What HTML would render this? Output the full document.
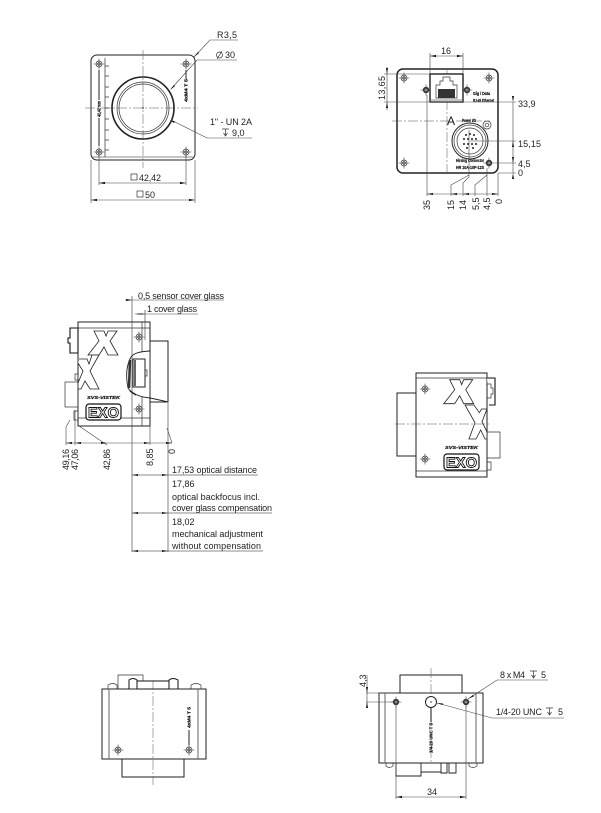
<!DOCTYPE html>
<html><head><meta charset="utf-8"><style>
html,body{margin:0;padding:0;background:#fff;width:601px;height:813px;overflow:hidden}
svg{display:block}
text{font-family:"Liberation Sans",sans-serif;font-size:9px;fill:#222}
.b{fill:none;stroke:#222;stroke-width:1}
.t{fill:none;stroke:#333;stroke-width:.7}
.d{fill:none;stroke:#444;stroke-width:.6}
.g{fill:none;stroke:#666;stroke-width:.7}
.c{fill:none;stroke:#555;stroke-width:.5;stroke-dasharray:10 2 2 2}
.a{fill:#111}
.s{font-size:4.4px;font-weight:bold;fill:#111;stroke:#111;stroke-width:.2}
.e{font-size:15px;font-weight:bold;fill:#fff;stroke:#111;stroke-width:.9}
</style></head><body>
<svg width="601" height="813" viewBox="0 0 601 813" xmlns="http://www.w3.org/2000/svg">
<defs>
<g id="sc"><circle r="3" class="t"/><circle r="1.3" class="t"/><path d="M-5.500 0H5.500M0-5.500V5.500" class="d"/></g>
<g id="sd"><circle r="3.200" fill="#333"/><circle r="1.400" fill="#ccc"/><path d="M-5.500 0H5.500M0-5.500V5.500" class="d"/></g>
<path id="ar" d="M0 0L6-1.1V1.1Z" class="a"/>
<path id="al" d="M0 0L-6-1.1V1.1Z" class="a"/>
<path id="x" d="M94 331H104L106 336L108 331H117L110 341L118 355H108L104 347L99 355H88L99 341Z" fill="#fff" stroke="#222" stroke-width=".8"/>
</defs>

<!-- TOP LEFT -->
<rect x="91" y="55" width="104" height="105" rx="6" class="b"/>
<path d="M91 157H195" class="g"/>
<path d="M143 50V168M85 108H198" class="c"/>
<circle cx="143" cy="108" r="31" fill="none" stroke="#222" stroke-width="1.6"/>
<circle cx="143" cy="108" r="26" class="t"/><circle cx="143" cy="108" r="24" class="t"/><circle cx="143" cy="108" r=".8" class="a"/>
<use href="#sc" x="99" y="64"/><use href="#sc" x="186" y="64"/><use href="#sc" x="99" y="152"/><use href="#sc" x="186" y="152"/>
<path d="M99 70V100M99 118V146M186 70V79" stroke="#222" stroke-width="1" fill="none"/>
<path d="M105 58V157M105 66H109M105 76H109M105 87H109M105 97H109M105 108H109M105 119H109M105 130H109M105 140H109M105 150H109" class="t"/>
<text class="s" transform="translate(100.500 117) rotate(-90)" textLength="16" lengthAdjust="spacingAndGlyphs">42,42 mm</text>
<text class="s" transform="translate(187.500 102) rotate(-90)" textLength="23" lengthAdjust="spacingAndGlyphs">4xM4 T 5</text>
<path d="M194 57L210 40H238M171 89L197 60H237M171 120L207 138H252" class="d"/>
<path d="M194 57l4-5 1 1zM170 90l4-5 1 1zM170 120l5 1.5-1 1.5z" class="a"/>
<text x="217" y="38" textLength="20">R3,5</text>
<circle cx="219.500" cy="55" r="3" class="t"/><path d="M217 59L222 51" class="t"/>
<text x="225" y="58">30</text>
<text x="210" y="125" textLength="42">1" - UN 2A</text>
<path d="M222 129H229M225.500 129V135M223.500 133L225.500 136L227.500 133" class="t"/>
<text x="232" y="136">9,0</text>
<path d="M99 155V185M186 155V185M91 160V203M195 160V203" class="d"/>
<path d="M99 183H186M91 200H195" class="d"/>
<use href="#ar" x="99" y="183"/><use href="#al" x="186" y="183"/><use href="#ar" x="91" y="200"/><use href="#al" x="195" y="200"/>
<rect x="131" y="174" width="6" height="6" class="t"/><text x="139" y="181" textLength="22">42,42</text>
<rect x="137" y="191" width="6" height="6" class="t"/><text x="145" y="198">50</text>

<!-- TOP RIGHT -->
<rect x="397" y="69" width="101" height="104" rx="6" fill="none" stroke="#222" stroke-width="1.5"/>
<path d="M392 121H490M447 68V176" class="c"/>
<use href="#sc" x="404" y="78"/><use href="#sc" x="489" y="78"/><use href="#sc" x="404" y="163"/><use href="#sd" x="489" y="163"/>
<use href="#sd" x="426" y="90"/><use href="#sd" x="467" y="90"/>
<rect x="430" y="74" width="33" height="28" fill="#fff" stroke="#111" stroke-width="1.3"/>
<path d="M436 98V85H440V81H443V77H450V81H453V85H457V98Z" class="t"/>
<rect x="438" y="89" width="17" height="9" fill="#333"/>
<path d="M431 100H462" class="g"/>
<circle cx="470" cy="141" r="18" fill="#fff" stroke="#222" stroke-width="1"/><circle cx="470" cy="141" r="16" class="t"/><circle cx="470" cy="141" r="13" class="t"/>
<g fill="#444"><circle cx="466" cy="135" r="1.100"/><circle cx="470" cy="134" r="1.100"/><circle cx="474" cy="135" r="1.100"/><circle cx="464" cy="139" r="1.100"/><circle cx="468" cy="139" r="1.100"/><circle cx="472" cy="139" r="1.100"/><circle cx="476" cy="139" r="1.100"/><circle cx="464" cy="144" r="1.100"/><circle cx="468" cy="144" r="1.100"/><circle cx="472" cy="144" r="1.100"/><circle cx="476" cy="144" r="1.100"/><circle cx="467" cy="148" r="1.100"/><circle cx="473" cy="148" r="1.100"/></g>
<circle cx="487" cy="125" r="4" class="t"/><circle cx="487" cy="125" r="1.800" class="t"/>
<text x="447" y="125" style="font-size:12px">A</text>
<text class="s" x="473" y="95" textLength="17" lengthAdjust="spacingAndGlyphs">Gig / Data</text><text class="s" x="473" y="102" textLength="21" lengthAdjust="spacingAndGlyphs">RJ-45 Ethernet</text>
<text class="s" x="462" y="122" textLength="14" lengthAdjust="spacingAndGlyphs">Power I/O</text>
<text class="s" x="456" y="162" textLength="28" lengthAdjust="spacingAndGlyphs">Hirsing Connector</text><text class="s" x="456" y="169" textLength="28" lengthAdjust="spacingAndGlyphs">HR 10A-10P-12S</text>
<path d="M430 74V53M463 74V53M430 56H463" class="d"/><use href="#ar" x="430" y="56"/><use href="#al" x="463" y="56"/>
<text x="441" y="54">16</text>
<path d="M384 74H430M384 102H430M387 67V110M430 102H516M470 141H516M495 163H516M498 173H516M513 102V173" class="d"/>
<path d="M387 74l-1-6h2zM387 102l-1 6h2z" class="a"/>
<path d="M513 102l-1-6h2zM513 141l-1 6h2zM513 163l-1-6h2zM513 173l-1 6h2z" class="a"/>
<text transform="translate(385 100) rotate(-90)" textLength="24">13,65</text>
<text x="518" y="107">33,9</text><text x="518" y="147" textLength="23">15,15</text><text x="518" y="167">4,5</text><text x="518" y="176">0</text>
<path d="M427 95V196M427 194H498M498 173V196M451 196V185L469 175M463 196V183L469 177V130M475 196V185L487 175M487 196V168" class="d"/>
<path d="M427 194l6-1v2zM498 194l-6-1v2zM451 194l6-1v2zM463 194l6-1v2z" class="a"/>
<text transform="translate(430 210) rotate(-90)">35</text>
<text transform="translate(454 210) rotate(-90)">15</text>
<text transform="translate(466 210) rotate(-90)">14</text>
<text transform="translate(479 210) rotate(-90)">5,5</text>
<text transform="translate(490 210) rotate(-90)">4,5</text>
<text transform="translate(502 204) rotate(-90)">0</text>

<!-- SIDE LEFT -->
<path d="M150 341H168V402H150" class="b"/>
<path d="M78 322H150V426H78Z" class="b"/>
<path d="M78 328H150M78 418H150M142 322V353M142 393V426" class="t"/>
<path d="M70 328H78V353H70V343H68V338H70Z" fill="#fff" stroke="#111" stroke-width="1.1"/>
<rect x="65" y="382" width="13" height="25" class="t"/>
<path d="M75 374H78V380H75ZM74 411H78V420H74Z" class="t"/>
<use href="#x"/>
<path d="M79 359H87L89 364L92 355H99L90 371L99 389H90L85 381L81 389H78V383L83 371L78 363" fill="#fff" stroke="#222" stroke-width=".8"/>
<text class="s" x="87" y="399" textLength="33" lengthAdjust="spacingAndGlyphs" style="font-style:italic">SVS-VISTEK</text>
<rect x="86" y="404" width="35" height="16" rx="3" fill="#fff" stroke="#111" stroke-width="1.2"/>
<text class="e" x="88" y="417.500" textLength="31" lengthAdjust="spacingAndGlyphs">EXO</text>
<path d="M128 388C126 378 126 366 131 357C134 353 140 351.500 150 351V398C140 397 132 394 128 388Z" fill="#fff" stroke="#222" stroke-width=".9"/>
<path d="M150 398Q160 400 168 402" class="b"/>
<rect x="133" y="359" width="12" height="28" fill="#fff" stroke="#222" stroke-width="1"/>
<path d="M145 370H147V376H145" class="t"/>
<path d="M130 360L129 388" stroke="#333" stroke-width="2.500"/>
<path d="M135 360V386" stroke="#555" stroke-width="1.800"/>
<path d="M130 391L136 395" stroke="#222" stroke-width="1.5"/>
<use href="#sc" x="139" y="337"/><use href="#sc" x="139" y="409"/>
<path d="M132 296V552M145 310V340M168 403V552" class="d" style="stroke:#333"/>
<path d="M125 300H224M135 314H198" class="d"/>
<path d="M132 300l-6-1v2zM136 314l6-1v2zM145 314l-6-1v2z" class="a"/>
<text x="138" y="299" textLength="86">0,5 sensor cover glass</text>
<text x="147" y="312" textLength="50">1 cover glass</text>
<path d="M66 445V427L70 420M75 445V410M79 426L107 445M150 426V445M167 428L172 443" class="d"/>
<path d="M66 443H172" class="d"/>
<path d="M66 443l6-1v2zM75 443l6-1v2zM107 443l-6-1v2zM150 443l-6-1v2zM172 443l-6-1v2z" class="a"/>
<text transform="translate(69 470) rotate(-90)" textLength="21">49,16</text>
<text transform="translate(78 470) rotate(-90)" textLength="21">47,06</text>
<text transform="translate(110 470) rotate(-90)" textLength="21">42,86</text>
<text transform="translate(153 466) rotate(-90)">8,85</text>
<text transform="translate(175 454) rotate(-90)">0</text>
<path d="M132 475H258M132 513H272M132 551H263" class="g"/>
<path d="M132 475l6-1v2zM168 475l-6-1v2zM132 513l6-1v2zM168 513l-6-1v2zM132 551l6-1v2zM168 551l-6-1v2z" class="a"/>
<text x="172" y="473" textLength="85">17,53 optical distance</text>
<text x="172" y="487">17,86</text>
<text x="172" y="500" textLength="88">optical backfocus incl.</text>
<text x="172" y="511" textLength="100">cover glass compensation</text>
<text x="172" y="525">18,02</text>
<text x="172" y="537" textLength="91">mechanical adjustment</text>
<text x="172" y="549" textLength="89">without compensation</text>

<!-- SIDE RIGHT -->
<path d="M416 393H397V456H416" class="b"/>
<path d="M416 373H487V477H416Z" class="b"/>
<path d="M416 378H487M416 471H487" class="t"/>
<path d="M487 378H495V405H489" fill="#fff" stroke="#111" stroke-width="1.1"/>
<path d="M487 384H491V388H493V394H491V398H487" class="t"/>
<path d="M487 432H500V458H487" class="t"/>
<path d="M487 462H491V470H487" class="t"/>
<use href="#x" x="355.700" y="48.700"/>
<path d="M465 405H474L479.300 412.700L481.700 409H487L482 421.700L487 432V439H485L480.700 430L476 439H469L475 422.700Z" fill="#fff" stroke="#222" stroke-width=".8"/>
<use href="#sc" x="425" y="389"/><use href="#sc" x="425" y="459"/>
<path d="M395 424H490" class="c"/>
<text class="s" x="445" y="449" textLength="33" lengthAdjust="spacingAndGlyphs" style="font-style:italic">SVS-VISTEK</text>
<rect x="444" y="454" width="35" height="16" rx="3" fill="#fff" stroke="#111" stroke-width="1.2"/>
<text class="e" x="446" y="467.500" textLength="31" lengthAdjust="spacingAndGlyphs">EXO</text>

<!-- BOTTOM LEFT -->
<path d="M118 689V675H143V681" class="t"/>
<rect x="102" y="689" width="104" height="70" class="b"/>
<path d="M109 689V759M198 689V759" stroke="#666" stroke-width="1" fill="none"/>
<path d="M122 759V777H184V759" class="b"/>
<path d="M108 689V685Q113 682 117 685V689M191 689V685Q196 682 201 685V689" class="t"/>
<path d="M129 689V680Q133 677 137 680V689M169 689V680Q173 677 178 680V689" stroke="#111" fill="none" stroke-width="1"/>
<path d="M137 681H169V689H137Z" class="t" style="stroke:#111;stroke-width:1"/>
<path d="M153 680V785" class="c"/>
<use href="#sc" x="118" y="750"/><use href="#sc" x="189" y="750"/>
<path d="M189 730V745" stroke="#222" fill="none"/>
<text class="s" transform="translate(190.500 728) rotate(-90)" textLength="21" lengthAdjust="spacingAndGlyphs">4xM4 T 5</text>

<!-- BOTTOM RIGHT -->
<path d="M400 693V675H462V693" class="b"/>
<rect x="379" y="693" width="104" height="70" class="b"/>
<path d="M385 693V763M476 693V763" stroke="#666" stroke-width="1" fill="none"/>
<path d="M431 668V763" class="c"/>
<circle cx="431" cy="702" r="5.500" fill="#fff" stroke="#222" stroke-width="1"/><circle cx="431" cy="702" r=".7" class="a"/>
<use href="#sd" x="396" y="702"/><use href="#sd" x="466" y="702"/>
<path d="M431 708V722" stroke="#111" fill="none"/>
<text class="s" transform="translate(432.500 753) rotate(-90)" textLength="30" lengthAdjust="spacingAndGlyphs">1/4-20 UNC T 5</text>
<path d="M386 763V766Q389 769 393 766V763M469 763V766Q473 769 477 766V763" class="t"/>
<path d="M396 763V776H421V763M421 772H441V763M441 763V773H447V763M449 763V773H456V763" class="t" style="stroke:#222;stroke-width:.9"/>
<path d="M396 706V799M466 706V799M396 797H466" class="d"/>
<use href="#ar" x="396" y="797"/><use href="#al" x="466" y="797"/>
<text x="427" y="795">34</text>
<path d="M366 693H396M366 702H396M367 675V708" class="d"/>
<path d="M367 693l-1-6h2zM367 702l-1 6h2z" class="a"/>
<text transform="translate(366 687) rotate(-90)">4,3</text>
<path d="M468 699L497 680H548M437 703L492 718H564" class="d"/>
<path d="M468 699l5-4 1 1.300zM437 703l6 .5-.5 1.500z" class="a"/>
<text x="500" y="678" textLength="25">8 x M4</text>
<path d="M530 671H537M533.500 671V677M531.500 675L533.500 678L535.500 675" class="t"/>
<text x="541" y="678">5</text>
<text x="496" y="715" textLength="46">1/4-20 UNC</text>
<path d="M546 708H553M549.500 708V714M547.500 712L549.500 715L551.500 712" class="t"/>
<text x="558" y="715">5</text>
</svg>
</body></html>
